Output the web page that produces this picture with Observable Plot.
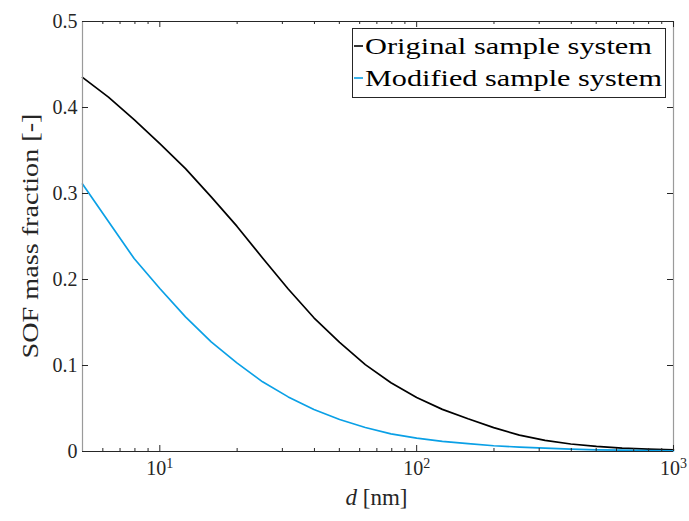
<!DOCTYPE html>
<html><head><meta charset="utf-8">
<script src="https://cdn.jsdelivr.net/npm/d3@7"></script>
<script src="https://cdn.jsdelivr.net/npm/@observablehq/plot@0.6"></script>
<style>body{margin:0;background:#fff}#chart{width:689px;height:521px}</style>
</head><body><div id="chart"></div>
<script>
// ---- data ----
const diameters = [5, 6.31, 7.943, 10, 12.59, 15.85, 19.95, 25.12, 31.62, 39.81, 50.12, 63.1, 79.43, 100, 125.9, 158.5, 199.5, 251.2, 316.2, 398.1, 501.2, 631, 794.3, 1000];
const originalValues = [0.435, 0.412, 0.386, 0.358, 0.329, 0.296, 0.262, 0.225, 0.189, 0.1555, 0.127, 0.101, 0.080, 0.0628, 0.049, 0.038, 0.0278, 0.019, 0.013, 0.0087, 0.006, 0.004, 0.0028, 0.002];
const modifiedValues = [0.311, 0.2674, 0.2244, 0.1895, 0.1565, 0.1274, 0.103, 0.081, 0.0635, 0.0488, 0.0372, 0.0279, 0.0205, 0.0155, 0.0118, 0.0091, 0.0067, 0.0051, 0.004, 0.0028, 0.002, 0.0015, 0.0011, 0.0008];
const seriesNames = ["Original sample system", "Modified sample system"];
const seriesColors = ["#000000", "#0aa0e6"];
const xDomain = [5, 1000];
const yDomain = [0, 0.5];
const xMajorTicks = [10, 100, 1000];
const xMinorTicks = [6, 7, 8, 9, 20, 30, 40, 50, 60, 70, 80, 90, 200, 300, 400, 500, 600, 700, 800, 900];
const yTicks = [0, 0.1, 0.2, 0.3, 0.4, 0.5];
const yTickLabels = ["0", "0.1", "0.2", "0.3", "0.4", "0.5"];
const xLabel = "[nm]";
const xLabelVar = "d";
const yLabel = "SOF mass fraction [-]";

// ---- layout ----
const W = 689, H = 521, mL = 82, mR = 16, mT = 21, mB = 70;
const innerW = W - mL - mR, innerH = H - mT - mB;
const MAJ = 6, MIN = 3;
const axisColor = "#262626";
const font = "'Liberation Serif', 'DejaVu Serif', serif";

const rows = [];
[originalValues, modifiedValues].forEach((vals, i) => {
  vals.forEach((v, j) => rows.push({d: diameters[j], v, s: seriesNames[i]}));
});

const plot = Plot.plot({
  width: W, height: H,
  marginLeft: mL, marginRight: mR, marginTop: mT, marginBottom: mB,
  style: {fontFamily: font, background: "#fff", color: axisColor},
  x: {type: "log", domain: xDomain},
  y: {domain: yDomain},
  color: {domain: seriesNames, range: seriesColors},
  marks: [
    Plot.line(rows, {x: "d", y: "v", z: "s", stroke: "s", strokeWidth: 1.7}),
    // frame
    Plot.ruleY([yDomain[0]], {stroke: axisColor, strokeWidth: 1.2}),
    Plot.ruleY([yDomain[1]], {stroke: axisColor, strokeWidth: 1}),
    Plot.ruleX([xDomain[0]], {stroke: "#9a9a9a", strokeWidth: 1.2}),
    Plot.ruleX([xDomain[1]], {stroke: "#9a9a9a", strokeWidth: 1.2}),
    // inward ticks
    Plot.ruleX(xMajorTicks, {insetTop: innerH - MAJ, stroke: axisColor}),
    Plot.ruleX(xMajorTicks, {insetBottom: innerH - MAJ, stroke: axisColor}),
    Plot.ruleX(xMinorTicks, {insetTop: innerH - MIN, stroke: axisColor}),
    Plot.ruleX(xMinorTicks, {insetBottom: innerH - MIN, stroke: axisColor}),
    Plot.ruleY(yTicks, {insetRight: innerW - MAJ, stroke: axisColor}),
    Plot.ruleY(yTicks, {insetLeft: innerW - MAJ, stroke: axisColor}),
    // tick labels
    Plot.axisX({ticks: xMajorTicks, tickSize: 0, tickPadding: 9, fontSize: 20, label: null,
      tickFormat: d => "10^" + Math.round(Math.log10(d))}),
    Plot.axisY({ticks: yTicks, tickSize: 0, tickPadding: 5, fontSize: 20, label: null,
      tickFormat: d => yTickLabels[yTicks.indexOf(d)]})
  ]
});
document.getElementById("chart").appendChild(plot);

const svg = d3.select(plot);
// superscripts on x tick labels
svg.selectAll('[aria-label="x-axis tick label"] text').each(function() {
  const t = d3.select(this);
  const [base, exp] = t.text().split("^");
  t.text(null);
  t.append("tspan").text(base);
  t.append("tspan").attr("dy", "-0.5em").attr("font-size", 14).text(exp);
});

// axis labels
svg.append("text")
  .attr("transform", `translate(38,${mT + innerH / 2}) rotate(-90)`)
  .attr("text-anchor", "middle").attr("font-size", 22.5).attr("fill", axisColor)
  .attr("font-family", font)
  .attr("textLength", 245).attr("lengthAdjust", "spacingAndGlyphs")
  .text(yLabel);
const xl = svg.append("text")
  .attr("x", mL + innerW / 2 - 1).attr("y", 505)
  .attr("text-anchor", "middle").attr("font-size", 23).attr("fill", axisColor)
  .attr("font-family", font);
xl.append("tspan").attr("font-style", "italic").text(xLabelVar);
xl.append("tspan").text(" " + xLabel);

// legend
const lg = svg.append("g");
lg.append("rect").attr("x", 352.5).attr("y", 28.5).attr("width", 313).attr("height", 69)
  .attr("fill", "#fff").attr("stroke", axisColor).attr("stroke-width", 1);
seriesNames.forEach((name, i) => {
  const cy = 46 + i * 32;
  lg.append("line").attr("x1", 354).attr("x2", 363).attr("y1", cy).attr("y2", cy)
    .attr("stroke", seriesColors[i]).attr("stroke-width", 1.6);
  lg.append("text").attr("x", 365).attr("y", cy + 8).attr("font-size", 22.5)
    .attr("text-anchor", "start")
    .attr("font-family", font).attr("fill", "#000")
    .attr("textLength", i === 0 ? 287 : 297).attr("lengthAdjust", "spacingAndGlyphs")
    .text(name);
});
</script>
</body></html>
